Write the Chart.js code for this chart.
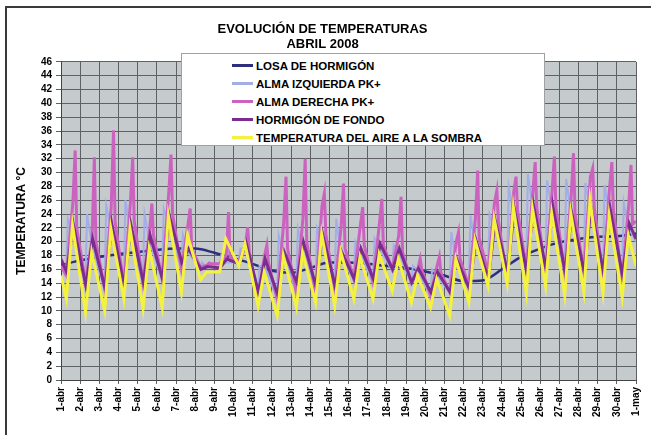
<!DOCTYPE html>
<html lang="es">
<head>
<meta charset="utf-8">
<title>Evolución de temperaturas - Abril 2008</title>
<script src="https://cdn.jsdelivr.net/npm/chart.js@4.4.1/dist/chart.umd.min.js"></script>
<style>
  body {
    margin: 0;
    width: 651px;
    height: 435px;
    overflow: hidden;
    background: #fff;
    font-family: "Liberation Sans", Arial, sans-serif;
  }
  #wrap {
    position: relative;
    width: 651px;
    height: 435px;
  }
  #frame {
    position: absolute;
    left: 5px;
    top: 6px;
    width: 700px;
    height: 500px;
    border-left: 2px solid #3a3a3a;
    border-top: 2px solid #3a3a3a;
    pointer-events: none;
  }
  #legend {
    position: absolute;
    left: 181px;
    top: 53px;
    width: 362px;
    height: 91px;
    background: #fff;
    border: 1px solid #a0a0a0;
  }
  .item {
    position: absolute;
    left: 50px;
    height: 14px;
    font-size: 11.5px;
    font-weight: bold;
    color: #000;
    white-space: nowrap;
    line-height: 14px;
  }
  .item span.swatch {
    display: inline-block;
    width: 21px;
    height: 3px;
    vertical-align: middle;
    margin-right: 3px;
    margin-top: -2px;
  }
</style>
</head>
<body>
<div id="wrap">
  <canvas id="tempChart" width="651" height="435"></canvas>
  <div id="legend"></div>
  <div id="frame"></div>
</div>
<script>
// Etiquetas del eje X (un día por rejilla)
const dias = [
  "1-abr", "2-abr", "3-abr", "4-abr", "5-abr", "6-abr", "7-abr", "8-abr",
  "9-abr", "10-abr", "11-abr", "12-abr", "13-abr", "14-abr", "15-abr",
  "16-abr", "17-abr", "18-abr", "19-abr", "20-abr", "21-abr", "22-abr",
  "23-abr", "24-abr", "25-abr", "26-abr", "27-abr", "28-abr", "29-abr",
  "30-abr", "1-may",
];

const nombres = [
  "LOSA DE HORMIGÓN",
  "ALMA IZQUIERDA PK+",
  "ALMA DERECHA PK+",
  "HORMIGÓN DE FONDO",
  "TEMPERATURA DEL AIRE A LA SOMBRA",
];
const colores = ["#2d2e7c", "#a3aee6", "#cc62bf", "#7b2d8f", "#f4f23c"];

// Losa: un valor a las 0 h de cada día
const losa = [
  16.6, 17.3, 17.8, 18.2, 18.5, 18.8, 19.0, 19.0, 18.4, 17.6, 16.8, 15.8,
  15.5, 16.2, 17.0, 17.0, 16.8, 16.5, 16.2, 15.7, 15.1, 14.3, 14.4, 16.0,
  17.8, 19.0, 19.9, 20.4, 20.7, 20.8, 21.2,
];

// Aire a la sombra: mínimo de madrugada y máximo de tarde
const aireMin = [
  11.7, 9.8, 10.0, 11.7, 10.3, 10.5, 12.7, 14.5, 15.6, 16.5, 10.7, 9.3,
  10.5, 11.2, 10.7, 11.7, 11.7, 12.9, 11.2, 10.5, 9.3, 11.2, 13.6, 13.9,
  12.5, 13.6, 12.2, 12.7, 12.5, 12.0,
];
const aireMax = [
  22.4, 18.5, 21.9, 21.9, 19.0, 23.8, 20.9, 15.6, 20.4, 19.7, 15.6, 18.0,
  18.5, 21.1, 18.5, 17.8, 18.2, 17.5, 15.1, 14.6, 17.5, 20.2, 23.3, 25.0,
  24.8, 24.1, 24.1, 26.0, 23.8, 20.9,
];
const aireBordes = [15.1, 16.5];

// Hormigón de fondo
const fondoMin = [
  15.6, 13.6, 13.2, 13.6, 14.1, 14.6, 17.0, 16.0, 16.2, 16.8, 12.7, 12.4,
  14.1, 13.6, 13.6, 14.6, 14.6, 16.0, 14.1, 12.7, 12.7, 13.2, 14.6, 15.6,
  15.6, 16.1, 15.6, 15.6, 15.6, 15.1,
];
const fondoMax = [
  22.4, 20.4, 22.6, 22.4, 20.9, 23.8, 19.0, 16.4, 17.5, 19.9, 17.5, 18.5,
  19.9, 21.1, 18.5, 19.0, 19.7, 19.0, 16.1, 15.6, 17.5, 20.2, 23.1, 24.8,
  25.3, 25.3, 24.1, 25.0, 24.8, 22.6,
];
const fondoBordes = [17.5, 20.4];

// Alma derecha: mínimo, subida, pico y bajada de tarde
const derechaMin = [
  15.1, 14.1, 13.2, 13.6, 14.1, 14.6, 16.1, 16.3, 16.8, 17.2, 12.0, 11.7,
  12.7, 12.7, 13.2, 14.6, 14.1, 16.1, 14.1, 12.2, 12.7, 13.6, 15.6, 14.6,
  16.0, 15.6, 15.6, 15.6, 14.9, 14.6,
];
const derechaCuerpo = [
  25.7, 20.4, 25.0, 25.5, 21.5, 27.0, 22.4, 16.6, 18.0, 19.5, 18.0, 22.8,
  23.3, 25.2, 22.3, 22.4, 22.8, 20.9, 16.1, 16.5, 20.0, 23.3, 25.7, 27.2,
  27.2, 27.2, 26.7, 29.4, 27.7, 25.3,
];
const derechaPico = [
  33.2, 32.2, 36.1, 32.2, 25.5, 32.6, 24.8, 16.9, 24.3, 22.1, 19.5, 29.4,
  32.0, 27.0, 28.4, 25.0, 26.2, 26.5, 17.5, 17.8, 21.4, 30.3, 27.4, 29.4,
  31.5, 32.3, 32.8, 30.6, 31.5, 31.1,
];
const derechaTarde = [
  22.0, 20.0, 23.0, 23.0, 21.0, 24.0, 19.0, 16.8, 17.8, 18.5, 17.0, 19.0,
  20.0, 21.0, 19.0, 19.5, 19.5, 18.5, 16.0, 15.5, 17.5, 20.5, 23.0, 24.5,
  25.0, 25.0, 24.0, 25.0, 24.5, 22.5,
];
const derechaBordes = [16.5, 23.0];

// Alma izquierda: pico de media mañana
const izquierdaMin = [
  15.0, 13.8, 13.0, 13.4, 13.9, 14.4, 16.0, 16.0, 16.5, 17.0, 12.0, 11.8,
  12.8, 12.8, 13.2, 14.4, 14.0, 15.8, 14.0, 12.2, 12.6, 13.4, 15.2, 14.6,
  15.8, 15.6, 15.6, 15.6, 15.0, 14.6,
];
const izquierdaPico = [
  23.3, 24.0, 25.3, 26.0, 24.0, 24.8, 21.0, 17.0, 18.0, 19.0, 16.5, 20.9,
  21.9, 22.0, 23.3, 20.0, 20.5, 19.5, 16.5, 16.0, 21.4, 23.8, 24.0, 27.9,
  29.8, 28.9, 29.1, 28.5, 28.2, 25.7,
];
const izquierdaTarde = [
  21.5, 19.5, 21.5, 21.5, 20.0, 22.5, 18.5, 16.3, 17.0, 19.0, 16.5, 18.0,
  19.0, 20.0, 18.0, 18.5, 19.0, 18.5, 15.8, 15.2, 17.0, 19.5, 22.0, 24.0,
  24.5, 24.5, 23.5, 24.5, 24.0, 22.0,
];
const izquierdaBordes = [16.5, 20.0];

// Arma los puntos {x: día + fracción horaria, y}
function serie(bordes, tramos) {
  const puntos = [{ x: 0, y: bordes[0] }];
  for (let d = 0; d < 30; d++) {
    tramos.forEach(function (t) {
      puntos.push({ x: d + t[0], y: t[1][d] });
    });
  }
  puntos.push({ x: 30, y: bordes[1] });
  return puntos;
}

const datosLosa = losa.map(function (v, i) {
  return { x: i, y: v };
});

const fondoGris = {
  id: "fondoGris",
  beforeDraw(chart) {
    const { ctx, chartArea } = chart;
    ctx.save();
    ctx.fillStyle = "#c5cacd";
    ctx.fillRect(
      chartArea.left,
      chartArea.top,
      chartArea.right - chartArea.left,
      chartArea.bottom - chartArea.top
    );
    ctx.restore();
  },
};

const fuente = { family: "'Liberation Sans', Arial, sans-serif", weight: "bold", size: 10 };

const ctx = document.getElementById("tempChart").getContext("2d");
new Chart(ctx, {
  type: "line",
  data: {
    datasets: [
      {
        label: nombres[0],
        data: datosLosa,
        borderColor: colores[0],
        borderWidth: 2.5,
        tension: 0.4,
        cubicInterpolationMode: "monotone",
        order: 5,
      },
      {
        label: nombres[1],
        data: serie(izquierdaBordes, [
          [0.27, izquierdaMin],
          [0.36, izquierdaPico],
          [0.62, izquierdaTarde],
        ]),
        borderColor: colores[1],
        borderWidth: 2,
        order: 4,
      },
      {
        label: nombres[2],
        data: serie(derechaBordes, [
          [0.28, derechaMin],
          [0.62, derechaCuerpo],
          [0.74, derechaPico],
          [0.82, derechaTarde],
        ]),
        borderColor: colores[2],
        borderWidth: 3,
        order: 3,
      },
      {
        label: nombres[3],
        data: serie(fondoBordes, [
          [0.3, fondoMin],
          [0.65, fondoMax],
        ]),
        borderColor: colores[3],
        borderWidth: 3,
        order: 2,
      },
      {
        label: nombres[4],
        data: serie(aireBordes, [
          [0.28, aireMin],
          [0.6, aireMax],
        ]),
        borderColor: colores[4],
        borderWidth: 3,
        order: 1,
      },
    ],
  },
  options: {
    responsive: false,
    animation: false,
    devicePixelRatio: 1,
    layout: {
      padding: { left: 0, right: 6, top: 0, bottom: 0 },
    },
    elements: {
      point: { radius: 0 },
      line: { tension: 0 },
    },
    plugins: {
      legend: { display: false },
      tooltip: { enabled: false },
      title: {
        display: true,
        text: ["EVOLUCIÓN DE TEMPERATURAS", "ABRIL 2008"],
        color: "#000",
        font: { family: "'Liberation Sans', Arial, sans-serif", weight: "bold", size: 13, lineHeight: 1.15 },
        padding: { top: 22, bottom: 10 },
      },
    },
    scales: {
      x: {
        type: "linear",
        min: 0,
        max: 30,
        afterFit: function (scale) {
          scale.height = 55;
        },
        grid: {
          color: "#5e6165",
          tickLength: 4,
        },
        border: { color: "#444" },
        ticks: {
          stepSize: 1,
          autoSkip: false,
          minRotation: 90,
          maxRotation: 90,
          padding: 3,
          color: "#000",
          font: fuente,
          callback: function (value) {
            return dias[value];
          },
        },
      },
      y: {
        min: 0,
        max: 46,
        afterFit: function (scale) {
          scale.width = 61;
        },
        grid: {
          color: "#5e6165",
          tickLength: 5,
        },
        border: { color: "#444" },
        ticks: {
          stepSize: 2,
          autoSkip: false,
          padding: 4,
          color: "#000",
          font: fuente,
        },
        title: {
          display: true,
          text: "TEMPERATURA °C",
          color: "#000",
          font: { family: "'Liberation Sans', Arial, sans-serif", weight: "bold", size: 12 },
          padding: { top: 14, bottom: 0 },
        },
      },
    },
  },
  plugins: [fondoGris],
});

// Leyenda en recuadro blanco sobre el gráfico
const legend = document.getElementById("legend");
const filas = [5, 23, 41, 59, 77];
nombres.forEach(function (nombre, i) {
  const item = document.createElement("div");
  item.className = "item";
  item.style.top = filas[i] + "px";
  const swatch = document.createElement("span");
  swatch.className = "swatch";
  swatch.style.background = colores[i];
  item.appendChild(swatch);
  item.appendChild(document.createTextNode(nombre));
  legend.appendChild(item);
});
</script>
</body>
</html>
